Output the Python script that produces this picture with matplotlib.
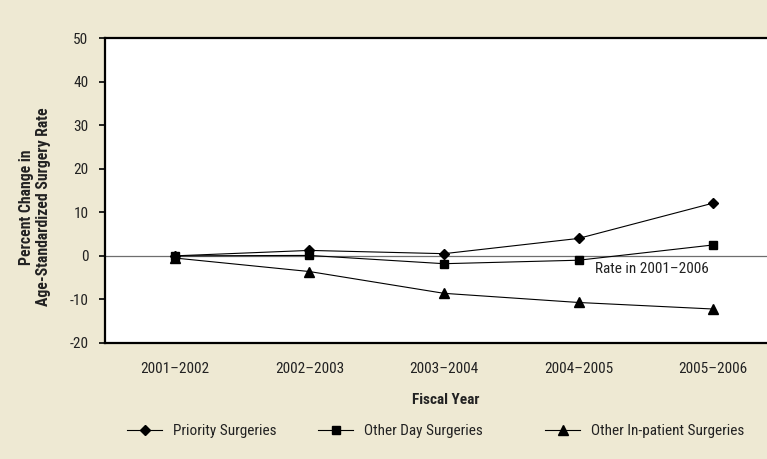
import matplotlib
matplotlib.use("Agg")
import matplotlib.pyplot as plt
from matplotlib import font_manager
from matplotlib.lines import Line2D

years = ["2001\u20132002", "2002\u20132003", "2003\u20132004", "2004\u20132005", "2005\u20132006"]
priority = [0.0, 1.25, 0.5, 4.0, 12.1]
other_day = [0.0, 0.1, -1.8, -1.0, 2.5]
inpatient = [-0.5, -3.6, -8.6, -10.7, -12.2]
y_ticks = [-20, -10, 0, 10, 20, 30, 40, 50]
series_names = ["Priority Surgeries", "Other Day Surgeries", "Other In-patient Surgeries"]
ref_label = "Rate in 2001\u20132006"

names = {f.name for f in font_manager.fontManager.ttflist}
fam = "DejaVu Sans"
for cand in ["Liberation Sans Narrow", "Roboto Condensed", "Open Sans Condensed", "Liberation Sans", "Roboto"]:
    if cand in names:
        fam = cand
        break
plt.rcParams["font.family"] = [fam, "DejaVu Sans"]

BG = "#EEE9D3"
TXT = "#222222"
W, H = 767, 459
fig = plt.figure(figsize=(W / 100, H / 100), dpi=100, facecolor=BG)
ax = fig.add_axes([105 / W, 1 - 343 / H, (783 - 105) / W, (343 - 38) / H])
ax.set_facecolor("white")

x = list(range(len(years)))
ax.axhline(0, color="#6e6e6e", lw=0.9, zorder=1)
ax.plot(x, priority, color="black", lw=0.8, marker="D", ms=5.3, zorder=3)
ax.plot(x, other_day, color="black", lw=0.8, marker="s", ms=5.8, zorder=3)
ax.plot(x, inpatient, color="black", lw=0.8, marker="^", ms=7.2, zorder=3)
ax.text(3.12, -3.0, ref_label, fontsize=11, color=TXT, ha="left", va="center")

ax.set_xlim(-0.52, 4.52)
ax.set_ylim(-20, 50)
ax.set_yticks(y_ticks)
ax.set_yticklabels([str(v) for v in y_ticks])
ax.set_xticks(x)
ax.set_xticklabels(years)
ax.tick_params(axis="y", direction="out", length=4, width=1.2, pad=8, labelsize=11, labelcolor=TXT)
ax.tick_params(axis="x", length=0, pad=14, labelsize=11, labelcolor=TXT)
for side in ["left", "top", "bottom"]:
    ax.spines[side].set_linewidth(1.6)
    ax.spines[side].set_color("black")
ax.spines["right"].set_visible(False)

fig.text(446 / W, 1 - 400 / H, "Fiscal Year", fontsize=11, fontweight="bold", color=TXT,
         ha="center", va="center")
fig.text(35 / W, 1 - 207 / H, "Percent Change in\nAge-Standardized Surgery Rate", fontsize=11.3,
         fontweight="bold", color=TXT, ha="center", va="center", rotation=90,
         multialignment="center", linespacing=1.15)

markers = ["D", "s", "^"]
sizes = [5.3, 5.8, 7.2]
starts = [127, 318, 545]
for name, m, s, x0 in zip(series_names, markers, sizes, starts):
    h = Line2D([], [], color="black", lw=0.8, marker=m, ms=s)
    leg = fig.legend([h], [name], loc="center left", bbox_to_anchor=(x0 / W - 0.006, 1 - 431 / H),
                     frameon=False, fontsize=11, handlelength=2.3, handletextpad=0.7,
                     borderaxespad=0, borderpad=0.3, labelcolor=TXT)

fig.savefig("out.png", dpi=100, facecolor=BG)
